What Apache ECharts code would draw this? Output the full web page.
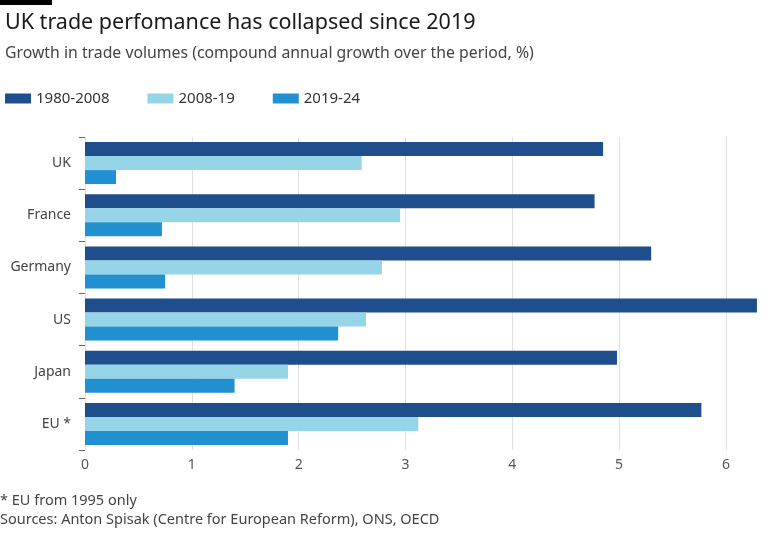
<!DOCTYPE html><html><head><meta charset="utf-8"><script src="https://cdn.jsdelivr.net/npm/echarts@6/dist/echarts.min.js"></script>
<style>body{margin:0;background:#fff}#c{width:768px;height:548px}</style></head><body><div id="c"></div><script>
const categories=['UK','France','Germany','US','Japan','EU *'];
const s1980=[4.85,4.77,5.3,6.29,4.98,5.77];
const s2008=[2.59,2.95,2.78,2.63,1.9,3.12];
const s2019=[0.29,0.72,0.75,2.37,1.4,1.9];
const names=['1980-2008','2008-19','2019-24'];
const colors=['#1f4e8c','#96d4e8','#2191d1'];
const ch=echarts.init(document.getElementById('c'));
const F='"Noto Sans", sans-serif';
ch.setOption({
title:{text:'UK trade perfomance has collapsed since 2019',subtext:'Growth in trade volumes (compound annual growth over the period, %)',left:0,top:7,itemGap:11,
textStyle:{fontFamily:F,fontSize:21.5,fontWeight:'normal',color:'#1a1a1a'},subtextStyle:{fontFamily:F,fontSize:15.8,color:'#444'}},
legend:{left:0,top:86,itemWidth:26,itemHeight:10,itemGap:38,icon:'rect',textStyle:{fontFamily:F,fontSize:15,color:'#333'},data:names},
grid:{left:85,right:10,top:137,bottom:98},
xAxis:{type:'value',min:0,max:6.3,interval:1,axisLabel:{fontFamily:F,fontSize:14,color:'#555',formatter:v=>Number.isInteger(v)?v:''},splitLine:{showMaxLine:false,lineStyle:{color:'#e0e0e0'}},axisLine:{show:false},axisTick:{show:false}},
yAxis:{type:'category',inverse:true,data:categories,axisLabel:{fontFamily:F,fontSize:14,color:'#444',margin:14},axisTick:{show:true,length:6,lineStyle:{color:'#666'}},axisLine:{show:false}},
series:[s1980,s2008,s2019].map((d,i)=>({name:names[i],type:'bar',data:d,barWidth:14,barGap:'0%',itemStyle:{color:colors[i]}})),
graphic:[{type:'rect',left:0,top:0,shape:{width:52,height:5},style:{fill:'#000'}},
{type:'text',left:0,top:491,style:{text:'* EU from 1995 only\nSources: Anton Spisak (Centre for European Reform), ONS, OECD',font:'14.5px "Noto Sans"',fill:'#444',lineHeight:19}}]
});
</script></body></html>
